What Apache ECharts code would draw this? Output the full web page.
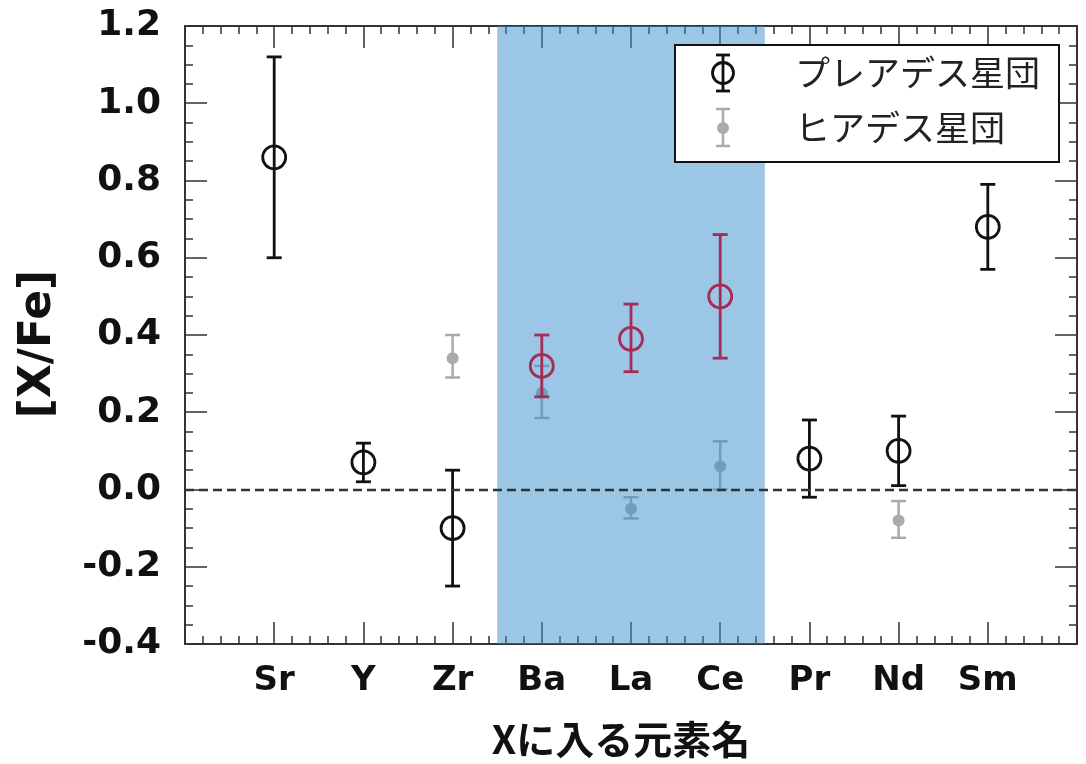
<!DOCTYPE html>
<html>
<head>
<meta charset="utf-8">
<script src="https://cdn.jsdelivr.net/npm/echarts@6/dist/echarts.min.js"></script>
<style>
html,body{margin:0;padding:0;background:#fff;}
#chart{width:1086px;height:764px;}
</style>
</head>
<body>
<div id="chart"></div>
<script>
// ---- data ----
const elements = ['Sr', 'Y', 'Zr', 'Ba', 'La', 'Ce', 'Pr', 'Nd', 'Sm'];
const highlighted = ['Ba', 'La', 'Ce'];
const pleiadesVal  = [0.86, 0.07, -0.10, 0.32, 0.39, 0.50, 0.08, 0.10, 0.68];
const pleiadesLow  = [0.60, 0.02, -0.25, 0.24, 0.305, 0.34, -0.02, 0.01, 0.57];
const pleiadesHigh = [1.12, 0.12, 0.05, 0.40, 0.48, 0.66, 0.18, 0.19, 0.79];
const hyadesVal  = [null, null, 0.34, 0.25, -0.05, 0.06, null, -0.08, null];
const hyadesLow  = [null, null, 0.29, 0.185, -0.075, 0.00, null, -0.125, null];
const hyadesHigh = [null, null, 0.40, 0.32, -0.02, 0.125, null, -0.03, null];
const yTicks = [-0.4, -0.2, 0.0, 0.2, 0.4, 0.6, 0.8, 1.0, 1.2];
const legendNames = ['プレアデス星団', 'ヒアデス星団'];
const xTitle = 'Xに入る元素名';
const yTitle = '[X/Fe]';

// ---- styles ----
const BLACK = '#111';
const RED = '#A62C58';
const GRAY = '#AAAAAA';
const AXIS = '#333';
const LATIN = "'DejaVu Sans', Verdana, sans-serif";
const CJK = "'Noto Sans CJK JP', 'DejaVu Sans', sans-serif";

const isHi = i => highlighted.indexOf(elements[i]) >= 0;
const hiIdx = highlighted.map(e => elements.indexOf(e) + 1);
const band = [Math.min(...hiIdx) - 0.5, Math.max(...hiIdx) + 0.5];

const pleiadesPts = elements.map((e, i) => ({value: [i + 1, pleiadesVal[i]], itemStyle: {borderColor: isHi(i) ? RED : BLACK}}));
const pleiadesErr = elements.map((e, i) => [i + 1, pleiadesLow[i], pleiadesHigh[i], isHi(i) ? 1 : 0]);
const hyadesPts = [], hyadesErr = [];
elements.forEach((e, i) => {
  if (hyadesVal[i] !== null) {
    hyadesPts.push([i + 1, hyadesVal[i]]);
    hyadesErr.push([i + 1, hyadesLow[i], hyadesHigh[i]]);
  }
});

function errRender(colorFn, lw, capHalf) {
  return function (params, api) {
    const x = api.value(0);
    const p1 = api.coord([x, api.value(2)]);
    const p2 = api.coord([x, api.value(1)]);
    const c = colorFn(api);
    const st = {stroke: c, lineWidth: lw};
    return {type: 'group', children: [
      {type: 'line', shape: {x1: p1[0], y1: p1[1], x2: p2[0], y2: p2[1]}, style: st},
      {type: 'line', shape: {x1: p1[0] - capHalf, y1: p1[1], x2: p1[0] + capHalf, y2: p1[1]}, style: st},
      {type: 'line', shape: {x1: p2[0] - capHalf, y1: p2[1], x2: p2[0] + capHalf, y2: p2[1]}, style: st}
    ]};
  };
}

function bandRender(params, api) {
  const cs = params.coordSys;
  const a = api.coord([api.value(0), 0]);
  const b = api.coord([api.value(1), 0]);
  return {type: 'rect', shape: {x: a[0], y: cs.y, width: b[0] - a[0], height: cs.height},
          style: {fill: 'rgba(57,141,205,0.5)'}};
}

const tickCommon = {
  splitLine: {show: false},
  minorSplitLine: {show: false}
};

const xBase = Object.assign({}, tickCommon, {
  type: 'value', min: 0, max: 10, interval: 1,
  axisLine: {show: true, onZero: false, lineStyle: {color: AXIS, width: 2}},
  axisTick: {show: true, inside: true, length: 22, lineStyle: {color: AXIS, width: 1.5}},
  minorTick: {show: true, splitNumber: 5, length: 8, lineStyle: {color: AXIS, width: 1.5}}
});
const yBase = Object.assign({}, tickCommon, {
  type: 'value', min: -0.4, max: 1.2, interval: 0.2,
  axisLine: {show: true, onZero: false, lineStyle: {color: AXIS, width: 2}},
  axisTick: {show: true, inside: true, length: 22, lineStyle: {color: AXIS, width: 1.5}},
  minorTick: {show: true, splitNumber: 4, length: 8, lineStyle: {color: AXIS, width: 1.5}}
});

const option = {
  backgroundColor: '#fff',
  animation: false,
  grid: {left: 185, top: 26, right: 9, bottom: 120, containLabel: false},
  xAxis: [
    Object.assign({}, xBase, {
      position: 'bottom',
      axisLabel: {
        show: true, margin: 20, color: BLACK, fontFamily: LATIN, fontWeight: 'bold', fontSize: 34,
        formatter: v => elements[v - 1] || ''
      },
      name: xTitle, nameLocation: 'middle', nameGap: 76,
      nameTextStyle: {color: BLACK, fontFamily: CJK, fontWeight: 'bold', fontSize: 39, padding: [0, 20, 0, 0]}
    }),
    Object.assign({}, xBase, {position: 'top', axisLabel: {show: false}})
  ],
  yAxis: [
    Object.assign({}, yBase, {
      position: 'left',
      axisLabel: {
        show: true, margin: 24, color: BLACK, fontFamily: LATIN, fontWeight: 'bold', fontSize: 36,
        formatter: v => {
          const t = yTicks.find(k => Math.abs(k - v) < 1e-6);
          return t === undefined ? '' : t.toFixed(1);
        }
      },
      name: yTitle, nameLocation: 'middle', nameGap: 124, nameRotate: 90,
      nameTextStyle: {color: BLACK, fontFamily: LATIN, fontWeight: 'bold', fontSize: 44, padding: [0, 18, 0, 0]}
    }),
    Object.assign({}, yBase, {position: 'right', axisLabel: {show: false}})
  ],
  series: [
    {
      // zero reference line
      type: 'line', data: [], xAxisIndex: 0, yAxisIndex: 0, z: 1, silent: true,
      markLine: {
        silent: true, symbol: 'none', label: {show: false},
        lineStyle: {color: '#333', width: 2.4, type: [9, 5]},
        data: [{yAxis: 0}]
      }
    },
    {
      name: legendNames[1] + 'err', type: 'custom', xAxisIndex: 0, yAxisIndex: 0, z: 2, silent: true,
      renderItem: errRender(() => GRAY, 2.5, 7.5),
      encode: {x: 0, y: [1, 2]},
      data: hyadesErr
    },
    {
      name: legendNames[1], type: 'scatter', xAxisIndex: 0, yAxisIndex: 0, z: 2, silent: true,
      symbol: 'circle', symbolSize: 12, itemStyle: {color: GRAY, opacity: 1},
      data: hyadesPts
    },
    {
      // highlighted band (Ba–Ce), semi-transparent over lower layers
      type: 'custom', xAxisIndex: 0, yAxisIndex: 0, z: 3, silent: true,
      renderItem: bandRender,
      encode: {x: [0, 1]},
      data: [band]
    },
    {
      name: legendNames[0] + 'err', type: 'custom', xAxisIndex: 0, yAxisIndex: 0, z: 4, silent: true,
      renderItem: errRender(api => api.value(3) ? RED : BLACK, 2.8, 7.5),
      encode: {x: 0, y: [1, 2]},
      data: pleiadesErr
    },
    {
      name: legendNames[0], type: 'scatter', xAxisIndex: 0, yAxisIndex: 0, z: 5, silent: true,
      symbol: 'circle', symbolSize: 23,
      itemStyle: {color: 'rgba(0,0,0,0)', borderWidth: 2.8, opacity: 1},
      data: pleiadesPts
    }
  ],
  graphic: [
    {type: 'rect', z: 100, shape: {x: 675, y: 45, width: 384, height: 117},
     style: {fill: '#fff', stroke: BLACK, lineWidth: 2}},
    // legend row 1 icon
    {type: 'line', z: 101, shape: {x1: 723, y1: 55, x2: 723, y2: 91}, style: {stroke: BLACK, lineWidth: 2.8}},
    {type: 'line', z: 101, shape: {x1: 716, y1: 55, x2: 730, y2: 55}, style: {stroke: BLACK, lineWidth: 2.8}},
    {type: 'line', z: 101, shape: {x1: 716, y1: 91, x2: 730, y2: 91}, style: {stroke: BLACK, lineWidth: 2.8}},
    {type: 'circle', z: 101, shape: {cx: 723, cy: 73, r: 10.5}, style: {fill: 'none', stroke: BLACK, lineWidth: 2.8}},
    {type: 'text', z: 101, x: 795, y: 73, style: {text: legendNames[0], fill: '#222', font: "35px 'Noto Sans CJK JP'", textVerticalAlign: 'middle', verticalAlign: 'middle'}},
    // legend row 2 icon
    {type: 'line', z: 101, shape: {x1: 723, y1: 109, x2: 723, y2: 146}, style: {stroke: GRAY, lineWidth: 2.5}},
    {type: 'line', z: 101, shape: {x1: 716, y1: 109, x2: 730, y2: 109}, style: {stroke: GRAY, lineWidth: 2.5}},
    {type: 'line', z: 101, shape: {x1: 716, y1: 146, x2: 730, y2: 146}, style: {stroke: GRAY, lineWidth: 2.5}},
    {type: 'circle', z: 101, shape: {cx: 723, cy: 128, r: 6}, style: {fill: GRAY}},
    {type: 'text', z: 101, x: 795, y: 128, style: {text: legendNames[1], fill: '#222', font: "35px 'Noto Sans CJK JP'", textVerticalAlign: 'middle', verticalAlign: 'middle'}}
  ]
};

const chart = echarts.init(document.getElementById('chart'), null, {renderer: 'canvas'});
chart.setOption(option);
</script>
</body>
</html>
